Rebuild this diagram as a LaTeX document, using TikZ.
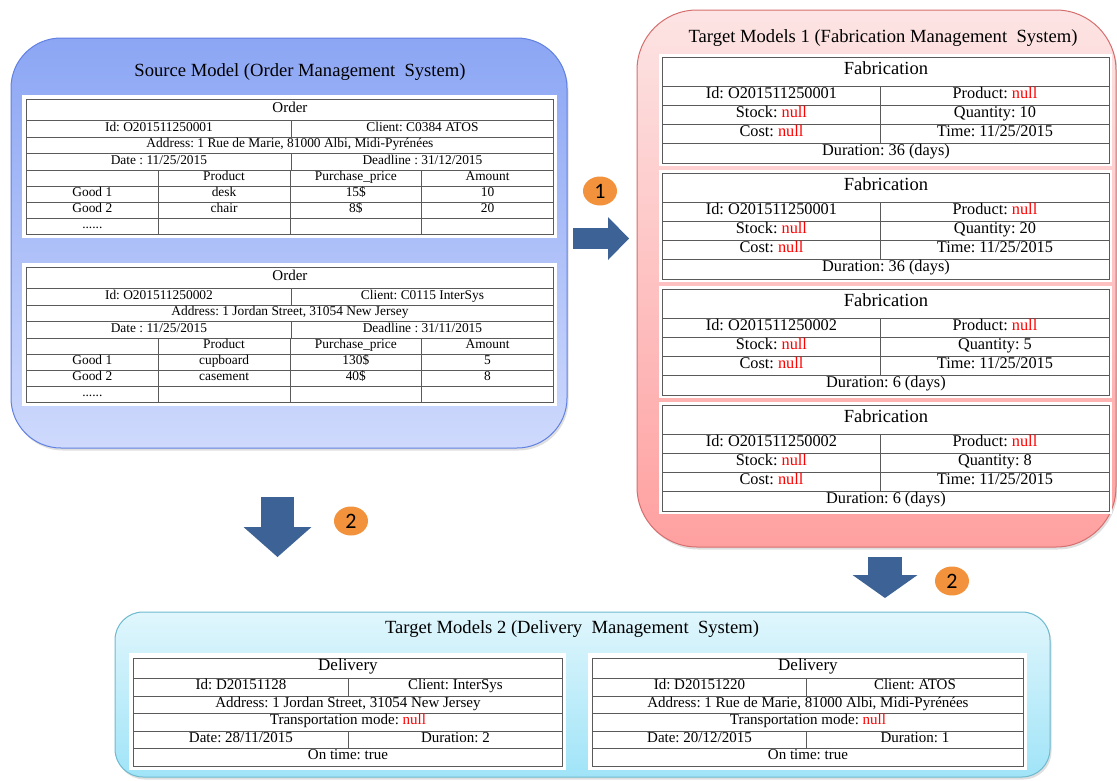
\documentclass[tikz,border=0pt]{standalone}
\usepackage{fontspec}
\setmainfont{Liberation Serif}
\newfontfamily\badgefont{Carlito}
\usetikzlibrary{arrows.meta,shapes.geometric,shadows}

\definecolor{srctop}{RGB}{140,166,244}
\definecolor{srcbot}{RGB}{206,217,252}
\definecolor{srcline}{RGB}{96,128,226}
\definecolor{fabtop}{RGB}{253,228,228}
\definecolor{fabbot}{RGB}{255,160,160}
\definecolor{fabline}{RGB}{214,110,110}
\definecolor{delitop}{RGB}{224,246,252}
\definecolor{delibot}{RGB}{160,228,248}
\definecolor{deliline}{RGB}{110,186,206}
\definecolor{arrowblue}{RGB}{60,98,150}
\definecolor{badgeorange}{RGB}{242,146,60}
\definecolor{gridgray}{RGB}{90,90,90}

\newcommand{\fsz}[1]{\fontsize{#1}{#1}\selectfont}
\newcommand{\nullval}{\textcolor{red}{null}}
\newcommand{\moregoods}{......}
\frenchspacing

\begin{document}
\begin{tikzpicture}[x=1pt, y=-1pt]
    \tikzset{%
     modelbox/.style={
        draw, line width=1pt, inner sep=0pt,
        drop shadow={shadow xshift=1.5pt, shadow yshift=-2.5pt, opacity=0.25}},
     cell/.style={
        draw=gridgray, line width=0.9pt, fill=white,
        inner sep=0pt, anchor=north west,
        text height=0.68em, text depth=0.22em},
     ordercell/.style={cell, font=\fsz{13.4}},
     fabcell/.style={cell, font=\fsz{16.3}},
     delicell/.style={cell, font=\fsz{15}},
     boxtitle/.style={font=\fsz{18.6}},
     badge/.style={
        ellipse, fill=badgeorange, inner sep=0pt,
        minimum width=34pt, minimum height=29pt,
        font=\badgefont\fsz{22}},
    }
    \useasboundingbox (0,0) rectangle (1117,780);

    % models
    \node [modelbox, draw=srcline, top color=srctop, bottom color=srcbot,
        rounded corners=50pt, minimum width=556pt, minimum height=410pt] (src) at (289,243) {};
    \node [modelbox, draw=fabline, top color=fabtop, bottom color=fabbot,
        rounded corners=60pt, minimum width=479pt, minimum height=537pt] (fab) at (876.5,278.5) {};
    \node [modelbox, draw=deliline, top color=delitop, bottom color=delibot,
        rounded corners=28pt, minimum width=935pt, minimum height=165pt] (deli) at (582.5,694.5) {};

    \node [boxtitle] (src-title) at (300,72) {Source Model (Order Management\ \ System)};
    \node [boxtitle] (fab-title) at (883,38) {Target Models 1 (Fabrication Management\ \ System)};
    \node [boxtitle] (deli-title) at (572,629) {Target Models 2 (Delivery\ \ Management\ \ System)};

    % order tables
    \foreach \n/\ty/\id/\cl/\ad/\dl in {
        o1/99/O201511250001/C0384 ATOS/{Address: 1 Rue de Marie, 81000 Albi, Midi-Pyrénées}/{31/12/2015},
        o2/267/O201511250002/C0115 InterSys/{Address: 1 Jordan Street, 31054 New Jersey}/{31/11/2015}}
    {
        \fill [white] (22,\ty-4) rectangle (557,\ty+139);
        \node [ordercell, font=\fsz{15}, minimum width=527pt, minimum height=21pt] (\n-title) at (26,\ty) {Order};
        \node [ordercell, minimum width=265pt, minimum height=17pt] (\n-id) at (26,\ty+21) {Id: \id};
        \node [ordercell, minimum width=262pt, minimum height=17pt] (\n-client) at (291,\ty+21) {Client: \cl};
        \node [ordercell, minimum width=527pt, minimum height=16pt] (\n-addr) at (26,\ty+38) {\ad};
        \node [ordercell, minimum width=265pt, minimum height=17pt] (\n-date) at (26,\ty+54) {Date : 11/25/2015};
        \node [ordercell, minimum width=262pt, minimum height=17pt] (\n-dl) at (291,\ty+54) {Deadline : \dl};
    }
    \foreach \n/\ty/\k/\ca/\cb/\cc/\cd in {
        o1/99/0/ /Product/Purchase\_price/Amount, o1/99/1/Good 1/desk/15\$/10,
        o1/99/2/Good 2/chair/8\$/20, o1/99/3/\moregoods/ / / ,
        o2/267/0/ /Product/Purchase\_price/Amount, o2/267/1/Good 1/cupboard/130\$/5,
        o2/267/2/Good 2/casement/40\$/8, o2/267/3/\moregoods/ / / }
        \foreach \txt [count=\j from 0] in {\ca,\cb,\cc,\cd}
            \node [ordercell, minimum width=131.75pt, minimum height=16pt] (\n-\k-\j)
                at (26+131.75*\j,\ty+71+16*\k) {\txt};

    % fabrication tables
    \foreach \id/\qty/\dur [count=\i from 1] in {O201511250001/10/36, O201511250001/20/36,
                                                  O201511250002/5/6, O201511250002/8/6}
    {
        \pgfmathsetmacro{\ty}{57+116*(\i-1)}
        \fill [white] (659,\ty-3) rectangle (1112,\ty+109);
        \node [fabcell, font=\fsz{18.5}, minimum width=447pt, minimum height=29pt] (fab\i-title) at (662,\ty) {Fabrication};
        \node [fabcell, minimum width=218pt, minimum height=19pt] (fab\i-id) at (662,\ty+29) {Id: \id};
        \node [fabcell, minimum width=229pt, minimum height=19pt] (fab\i-prod) at (880,\ty+29) {Product: \nullval};
        \node [fabcell, minimum width=218pt, minimum height=19pt] (fab\i-stock) at (662,\ty+48) {Stock: \nullval};
        \node [fabcell, minimum width=229pt, minimum height=19pt] (fab\i-qty) at (880,\ty+48) {Quantity: \qty};
        \node [fabcell, minimum width=218pt, minimum height=19pt] (fab\i-cost) at (662,\ty+67) {Cost: \nullval};
        \node [fabcell, minimum width=229pt, minimum height=19pt] (fab\i-time) at (880,\ty+67) {Time: 11/25/2015};
        \node [fabcell, minimum width=447pt, minimum height=20pt] (fab\i-dur) at (662,\ty+86) {Duration: \dur{} (days)};
    }

    % delivery tables
    \foreach \n/\x/\sp/\w/\id/\cl/\ad/\dt/\du in {
        deli1/133/348/429/D20151128/InterSys/{Address: 1 Jordan Street, 31054 New Jersey}/{28/11/2015}/2,
        deli2/592/806/431/D20151220/ATOS/{Address: 1 Rue de Marie, 81000 Albi, Midi-Pyrénées}/{20/12/2015}/1}
    {
        \pgfmathsetmacro{\wl}{\sp-\x}
        \pgfmathsetmacro{\wr}{\x+\w-\sp}
        \fill [white] (\x-4,653) rectangle (\x+\w+4,770);
        \node [delicell, font=\fsz{17}, minimum width=\w pt, minimum height=20pt] (\n-title) at (\x,658) {Delivery};
        \node [delicell, minimum width=\wl pt, minimum height=18pt] (\n-id) at (\x,678) {Id: \id};
        \node [delicell, minimum width=\wr pt, minimum height=18pt] (\n-client) at (\sp,678) {Client: \cl};
        \node [delicell, minimum width=\w pt, minimum height=17pt] (\n-addr) at (\x,696) {\ad};
        \node [delicell, minimum width=\w pt, minimum height=18pt] (\n-mode) at (\x,713) {Transportation mode: \nullval};
        \node [delicell, minimum width=\wl pt, minimum height=17pt] (\n-date) at (\x,731) {Date: \dt};
        \node [delicell, minimum width=\wr pt, minimum height=17pt] (\n-dur) at (\sp,731) {Duration: \du};
        \node [delicell, minimum width=\w pt, minimum height=18pt] (\n-ontime) at (\x,748) {On time: true};
    }

    % transformation arrows
    \coordinate (a1s) at (573,238.5);
    \coordinate (a1e) at (629,238.5);
    \coordinate (a2s) at (277.5,497);
    \coordinate (a2e) at (277.5,557);
    \coordinate (a3s) at (885,557);
    \coordinate (a3e) at (885,598);
    \draw [arrowblue, line width=21pt, -{Triangle[length=21pt, width=43pt, line width=0pt]}] (a1s) -- (a1e);
    \draw [arrowblue, line width=33pt, -{Triangle[length=30pt, width=68pt, line width=0pt]}] (a2s) -- (a2e);
    \draw [arrowblue, line width=34pt, -{Triangle[length=23pt, width=65pt, line width=0pt]}] (a3s) -- (a3e);

    \node [badge] (step1) at (600,191) {1};
    \node [badge] (step2a) at (351,521) {2};
    \node [badge] (step2b) at (952,581) {2};
\end{tikzpicture}
\end{document}
